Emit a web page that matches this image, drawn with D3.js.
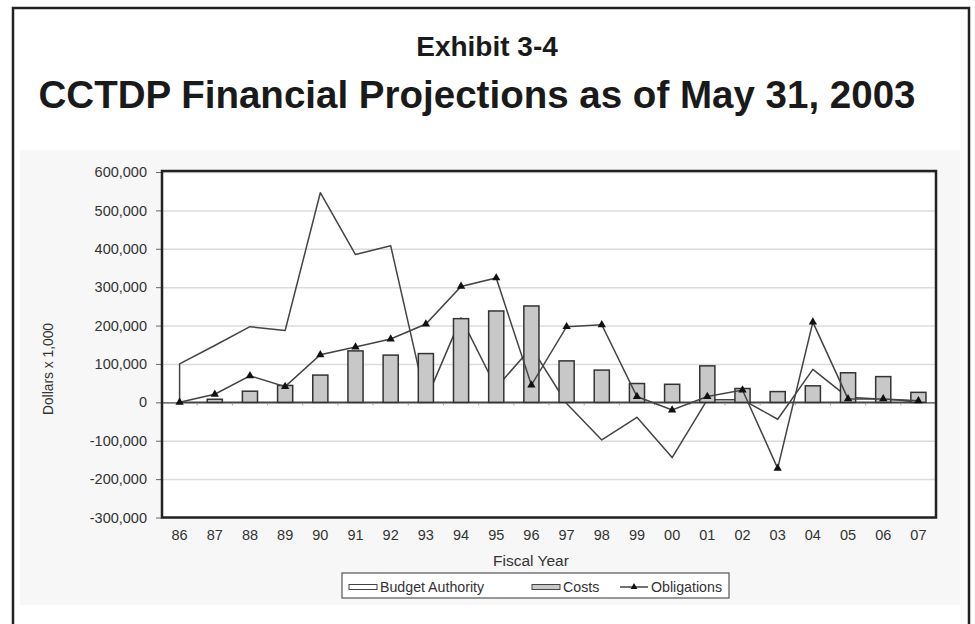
<!DOCTYPE html>
<html>
<head>
<meta charset="utf-8">
<script src="https://cdn.jsdelivr.net/npm/d3@7"></script>
<style>
  body { margin: 0; background: #fff; }
  svg { display: block; font-family: 'Liberation Sans', Arial, sans-serif; }
  .tick-label { font-size: 14.5px; fill: #333; }
</style>
</head>
<body>
<script>
/*
 * Global parameters.
 */

const CANVAS_WIDTH = 975;
const CANVAS_HEIGHT = 624;
const PLOT_LEFT = 162;
const PLOT_RIGHT = 936;
const PLOT_TOP = 172;
const PLOT_BOT = 517.5;

/*
 * Data (dollars x 1,000).
 */

const years = ['86', '87', '88', '89', '90', '91', '92', '93', '94', '95', '96',
               '97', '98', '99', '00', '01', '02', '03', '04', '05', '06', '07'];

const budgetAuthority = [100000, 148000, 197000, 187000, 546000, 385000, 408000,
                         5000, 220000, 38000, 143000, -3000, -98000, -39000,
                         -144000, 7000, 7000, -44000, 86000, 13000, 8000, 3000];

const costs = [0, 8000, 29000, 44000, 71000, 134000, 123000, 127000, 218000,
               238000, 251000, 108000, 84000, 49000, 47000, 95000, 36000,
               28000, 43000, 77000, 67000, 26000];

const obligations = [0, 21000, 69000, 41000, 124000, 144000, 165000, 204000,
                     302000, 324000, 45000, 197000, 202000, 15000, -20000,
                     15000, 32000, -172000, 209000, 9000, 9000, 4000];

const yTicks = [-300000, -200000, -100000, 0, 100000, 200000, 300000, 400000,
                500000, 600000];

const seriesNames = ['Budget Authority', 'Costs', 'Obligations'];

/*
 * Scales.
 */

const xScale = d3.scaleBand()
    .domain(years)
    .range([PLOT_LEFT, PLOT_RIGHT])
    .paddingInner(0.57)
    .paddingOuter(0.285);

const xCenter = yr => xScale(yr) + xScale.bandwidth() / 2;

const yScale = d3.scaleLinear()
    .domain([-300000, 600000])
    .range([PLOT_BOT, PLOT_TOP]);

// plain hyphen for negatives, as in the exhibit
const fmt = v => d3.format(',')(v).replace('\u2212', '-');

/*
 * Canvas, frame and titles.
 */

const svg = d3.select('body')
  .append('svg')
    .attr('width', CANVAS_WIDTH)
    .attr('height', CANVAS_HEIGHT);

svg.append('rect')
    .attr('x', 13)
    .attr('y', 8)
    .attr('width', 956)
    .attr('height', 640)
    .attr('fill', '#fff')
    .attr('stroke', '#222')
    .attr('stroke-width', 2.5);

// faint backdrop of the pasted chart picture
svg.append('rect')
    .attr('x', 20)
    .attr('y', 150)
    .attr('width', 940)
    .attr('height', 455)
    .attr('fill', '#f7f7f7');

svg.append('text')
    .attr('x', 487)
    .attr('y', 56)
    .attr('text-anchor', 'middle')
    .attr('font-size', 28)
    .attr('font-weight', 'bold')
    .attr('fill', '#1a1a1a')
    .text('Exhibit 3-4');

svg.append('text')
    .attr('x', 477)
    .attr('y', 108)
    .attr('text-anchor', 'middle')
    .attr('font-size', 38)
    .attr('font-weight', 'bold')
    .attr('fill', '#1a1a1a')
    .attr('textLength', 877)
    .attr('lengthAdjust', 'spacingAndGlyphs')
    .text('CCTDP Financial Projections as of May 31, 2003');

/*
 * Plot area, gridlines and axes.
 */

svg.append('rect')
    .attr('x', PLOT_LEFT)
    .attr('y', PLOT_TOP)
    .attr('width', PLOT_RIGHT - PLOT_LEFT)
    .attr('height', PLOT_BOT - PLOT_TOP)
    .attr('fill', '#fff');

svg.append('g')
    .attr('transform', `translate(${PLOT_LEFT}, 0)`)
    .call(d3.axisLeft(yScale)
      .tickValues(yTicks)
      .tickSize(-(PLOT_RIGHT - PLOT_LEFT))
      .tickFormat(''))
    .call(g => g.select('.domain').remove())
    .call(g => g.selectAll('line')
      .attr('stroke', '#dcdcdc')
      .attr('stroke-width', 1.5));

const yAxis = svg.append('g')
    .attr('transform', `translate(${PLOT_LEFT}, 0)`)
    .call(d3.axisLeft(yScale)
      .tickValues(yTicks)
      .tickSize(6)
      .tickPadding(9)
      .tickFormat(fmt));

yAxis.select('.domain').remove();
yAxis.selectAll('line').attr('stroke', '#666');
yAxis.selectAll('text')
    .attr('class', 'tick-label')
    .attr('font-family', null)
    .attr('font-size', null);

// zero line with category separators
const zeroAxis = svg.append('g')
    .attr('transform', `translate(0, ${yScale(0)})`)
    .call(d3.axisBottom(xScale).tickSize(0).tickFormat(''));

zeroAxis.select('.domain')
    .attr('stroke', '#555')
    .attr('stroke-width', 1.2);

zeroAxis.selectAll('.sep')
    .data(years.slice(1))
    .enter()
    .append('line')
      .attr('class', 'sep')
      .attr('x1', d => xScale(d) - xScale.step() * xScale.paddingInner() / 2)
      .attr('x2', d => xScale(d) - xScale.step() * xScale.paddingInner() / 2)
      .attr('y1', 0)
      .attr('y2', 3)
      .attr('stroke', '#999');

const xAxis = svg.append('g')
    .attr('transform', `translate(0, ${PLOT_BOT})`)
    .call(d3.axisBottom(xScale).tickSize(0).tickPadding(12));

xAxis.select('.domain').remove();
xAxis.selectAll('text')
    .attr('class', 'tick-label')
    .attr('font-family', null)
    .attr('font-size', null);

svg.append('text')
    .attr('transform', 'translate(53, 369) rotate(-90)')
    .attr('text-anchor', 'middle')
    .attr('font-size', 13.8)
    .attr('fill', '#333')
    .text('Dollars x 1,000');

svg.append('text')
    .attr('x', 531)
    .attr('y', 566)
    .attr('text-anchor', 'middle')
    .attr('font-size', 15.5)
    .attr('fill', '#333')
    .text('Fiscal Year');

/*
 * Series: budget authority area outline, cost bars, obligations line.
 */

const baArea = d3.area()
    .x((d, i) => xCenter(years[i]))
    .y0(yScale(0))
    .y1(d => yScale(d));

svg.append('path')
    .datum(budgetAuthority)
    .attr('d', baArea)
    .attr('fill', 'none')
    .attr('stroke', '#444')
    .attr('stroke-width', 1.5)
    .attr('stroke-linejoin', 'round');

const costData = years
    .map((yr, i) => ({yr, value: costs[i]}))
    .filter(d => d.value > 0);

svg.append('g')
  .selectAll('rect')
  .data(costData)
  .enter()
  .append('rect')
    .attr('x', d => xScale(d.yr))
    .attr('y', d => yScale(d.value))
    .attr('width', xScale.bandwidth())
    .attr('height', d => yScale(0) - yScale(d.value))
    .attr('fill', '#c8c8c8')
    .attr('stroke', '#333')
    .attr('stroke-width', 1.5);

const obLine = d3.line()
    .x((d, i) => xCenter(years[i]))
    .y(d => yScale(d));

svg.append('path')
    .datum(obligations)
    .attr('d', obLine)
    .attr('fill', 'none')
    .attr('stroke', '#444')
    .attr('stroke-width', 1.5);

const triangle = d3.symbol().type(d3.symbolTriangle).size(30);

svg.append('g')
  .selectAll('path')
  .data(obligations)
  .enter()
  .append('path')
    .attr('transform', (d, i) => `translate(${xCenter(years[i])}, ${yScale(d)})`)
    .attr('d', triangle)
    .attr('fill', '#111');

// plot frame on top
svg.append('rect')
    .attr('x', PLOT_LEFT)
    .attr('y', PLOT_TOP - 1)
    .attr('width', PLOT_RIGHT - PLOT_LEFT)
    .attr('height', PLOT_BOT - PLOT_TOP + 1)
    .attr('fill', 'none')
    .attr('stroke', '#222')
    .attr('stroke-width', 2.5);

/*
 * Legend.
 */

const legend = svg.append('g')
    .attr('transform', 'translate(342, 573)');

legend.append('rect')
    .attr('width', 387)
    .attr('height', 25)
    .attr('fill', '#fff')
    .attr('stroke', '#555')
    .attr('stroke-width', 1.2);

const legendX = [7, 190, 278];

seriesNames.forEach((name, i) => {
  const g = legend.append('g')
      .attr('transform', `translate(${legendX[i]}, 14)`);
  if (i < 2) {
    g.append('rect')
        .attr('y', -2.5)
        .attr('width', 28)
        .attr('height', 5)
        .attr('fill', i === 0 ? '#fff' : '#c8c8c8')
        .attr('stroke', '#444')
        .attr('stroke-width', 1);
  } else {
    g.append('line')
        .attr('x2', 28)
        .attr('stroke', '#444')
        .attr('stroke-width', 1.5);
    g.append('path')
        .attr('transform', 'translate(14, 0)')
        .attr('d', d3.symbol().type(d3.symbolTriangle).size(20))
        .attr('fill', '#111');
  }
  g.append('text')
      .attr('x', 31)
      .attr('y', 5)
      .attr('font-size', 14.2)
      .attr('fill', '#333')
      .text(name);
});
</script>
</body>
</html>
